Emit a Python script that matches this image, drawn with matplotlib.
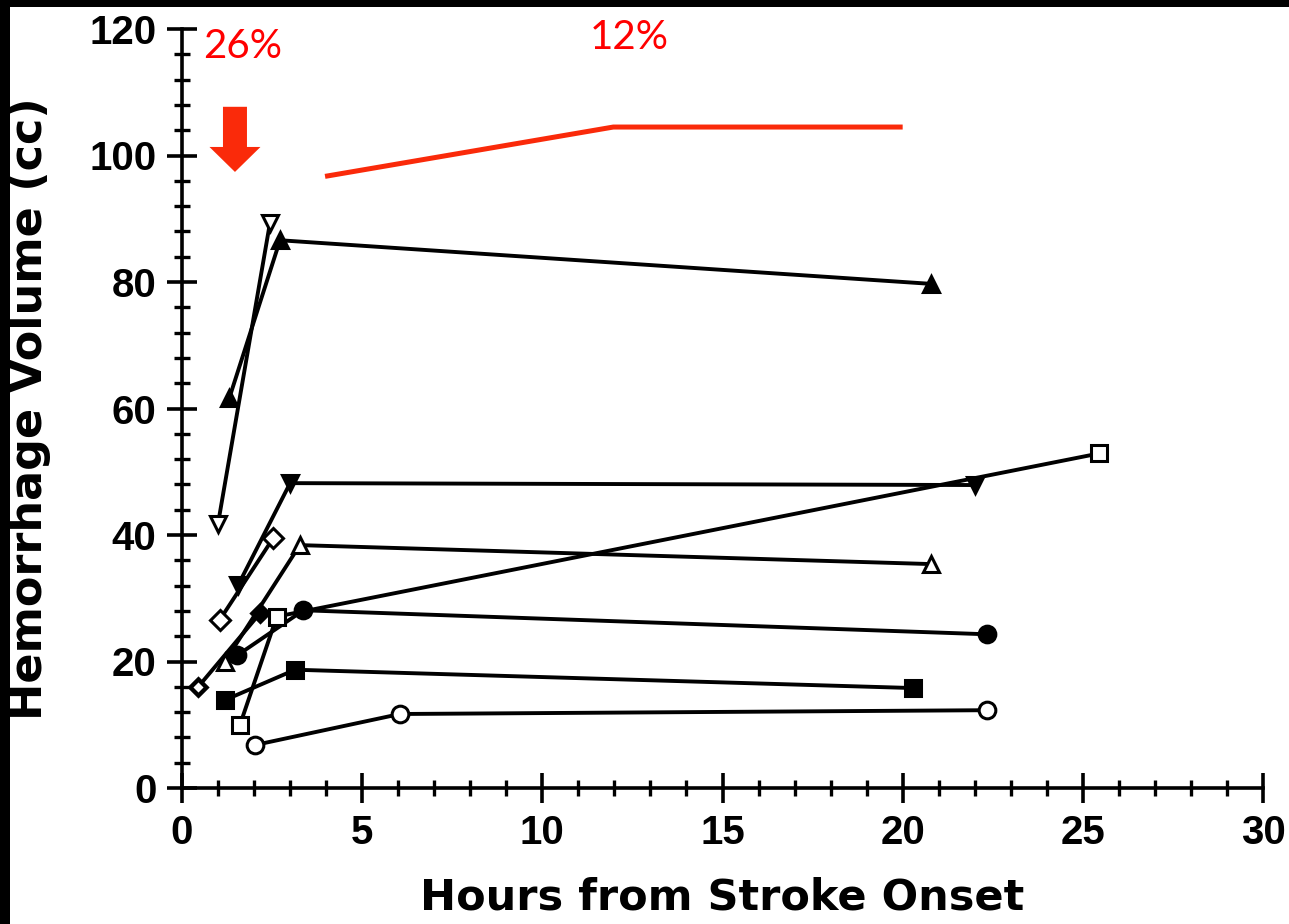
import matplotlib
matplotlib.use('Agg')
import matplotlib.pyplot as plt
from matplotlib.patches import Rectangle, FancyArrow
from matplotlib.ticker import MultipleLocator

# hours from onset and hemorrhage volume (cc) for each patient
open_dtri_h = [1.0, 2.44]
open_dtri_v = [41.8, 89.3]
fill_utri_h = [1.31, 2.72, 20.8]
fill_utri_v = [61.6, 86.6, 79.7]
fill_dtri_h = [1.56, 3.0, 22.0]
fill_dtri_v = [32.1, 48.2, 47.9]
open_diam_h = [1.05, 2.53]
open_diam_v = [26.6, 39.5]
fill_diam_h = [0.45, 2.16]
fill_diam_v = [16.0, 27.6]
open_utri_h = [1.19, 3.27, 20.8]
open_utri_v = [20.0, 38.4, 35.4]
fill_circ_h = [1.54, 3.37, 22.35]
fill_circ_v = [21.0, 28.1, 24.3]
open_sq_h = [1.61, 2.63, 25.46]
open_sq_v = [10.0, 27.1, 52.9]
fill_sq_h = [1.19, 3.14, 20.3]
fill_sq_v = [13.9, 18.7, 15.8]
open_circ_h = [2.03, 6.05, 22.33]
open_circ_v = [6.8, 11.7, 12.3]

# red overlay
trend_h = [3.97, 11.97, 20.0]
trend_v = [96.7, 104.5, 104.5]
early_label = '26%'
late_label = '12%'

fig = plt.figure(figsize=(12.89, 9.24), dpi=100, facecolor='black')
fig.add_artist(Rectangle((10/1289, 0), 1, (924-7)/924, transform=fig.transFigure,
                         facecolor='white', edgecolor='none', zorder=0))
ax = fig.add_axes([182/1289, (924-788)/924, 1081/1289, 759/924])
ax.set_facecolor('none')

lw = 2.8
def draw(h, v, marker, filled, ms=12):
    ax.plot(h, v, color='black', lw=lw, marker=marker, ms=ms,
            mfc='black' if filled else 'white', mec='black', mew=2.2, clip_on=False, zorder=3)

draw(open_dtri_h, open_dtri_v, 'v', False)
draw(fill_utri_h, fill_utri_v, '^', True)
draw(fill_dtri_h, fill_dtri_v, 'v', True)
draw(open_diam_h, open_diam_v, 'D', False, ms=10)
draw(fill_diam_h, fill_diam_v, 'D', True, ms=9)
# first scan of this patient is drawn as a small open diamond
ax.plot(fill_diam_h[:1], fill_diam_v[:1], 'D', ms=7, mfc='white', mec='black', mew=2, zorder=4)
draw(open_utri_h, open_utri_v, '^', False)
draw(fill_circ_h, fill_circ_v, 'o', True)
draw(open_sq_h, open_sq_v, 's', False)
draw(fill_sq_h, fill_sq_v, 's', True)
draw(open_circ_h, open_circ_v, 'o', False)

red = '#FA2A0A'
ax.plot(trend_h, trend_v, color=red, lw=3.6, solid_capstyle='butt', zorder=3)
ax.add_patch(FancyArrow(1.47, 107.7, 0, -10.3, width=0.666, head_width=1.415,
                        head_length=3.95, length_includes_head=True,
                        color=red, lw=0, zorder=3))
ax.text(1.67, 117.3, early_label, color='red', fontsize=29, family=['Lato', 'DejaVu Sans'],
        ha='center', va='center')
ax.text(12.41, 118.7, late_label, color='red', fontsize=29, family=['Lato', 'DejaVu Sans'],
        ha='center', va='center')

ax.set_xlim(0, 30)
ax.set_ylim(0, 120)
ax.spines['top'].set_visible(False)
ax.spines['right'].set_visible(False)
for s in ('left', 'bottom'):
    ax.spines[s].set_linewidth(2.6)
ax.xaxis.set_major_locator(MultipleLocator(5))
ax.xaxis.set_minor_locator(MultipleLocator(1))
ax.yaxis.set_major_locator(MultipleLocator(20))
ax.yaxis.set_minor_locator(MultipleLocator(4))
ax.tick_params(which='major', direction='inout', length=21, width=2.6, pad=8)
ax.tick_params(which='minor', direction='inout', length=12, width=2.4)
for lab in ax.get_xticklabels() + ax.get_yticklabels():
    lab.set_family('Liberation Sans')
    lab.set_fontweight('bold')
    lab.set_fontsize(29)

ax.set_xlabel('Hours from Stroke Onset', fontsize=31, fontweight='bold', family='DejaVu Sans')
ax.set_ylabel('Hemorrhage Volume (cc)', fontsize=32, fontweight='bold', family='DejaVu Sans')
ax.xaxis.set_label_coords(0.5, -0.117)
ax.yaxis.set_label_coords(-0.121, 0.5)

fig.savefig('out.png', dpi=100, facecolor=fig.get_facecolor())
